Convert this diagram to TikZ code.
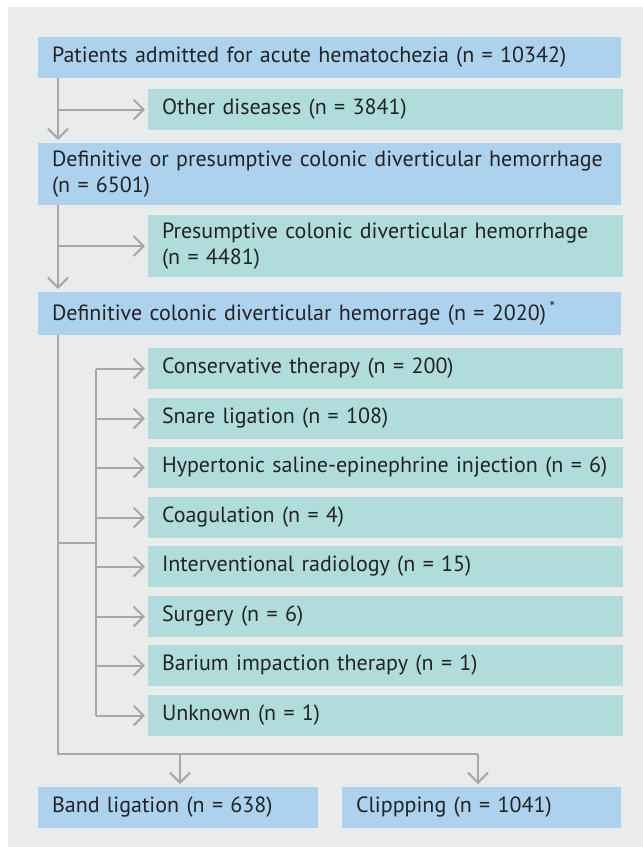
\documentclass[tikz,border=0pt]{standalone}
\usepackage{fontspec}
\setmainfont{PT Sans}
\usetikzlibrary{arrows.meta}
\definecolor{bgc}{RGB}{234,236,236}
\definecolor{bluec}{RGB}{172,210,238}
\definecolor{tealc}{RGB}{176,221,220}
\definecolor{linec}{RGB}{168,168,170}
\definecolor{txtc}{RGB}{35,35,38}
\tikzset{
  bx/.style={inner ysep=0pt, inner xsep=14pt, outer sep=0pt, text=txtc, anchor=north west,
    align=left, font=\fontsize{22}{26}\selectfont},
  bluebox/.style 2 args={bx, fill=bluec, text width=#1pt-28pt, minimum height=#2pt},
  tealbox/.style 2 args={bx, fill=tealc, text width=#1pt-28pt, minimum height=#2pt},
  conn/.style={draw=linec, line width=2pt},
  arr/.style={conn, shorten >=3pt, -{Straight Barb[length=10pt,width=20pt,line width=2pt]}},
}
\begin{document}
\begin{tikzpicture}[x=1pt,y=-1pt]
\useasboundingbox (0,0) rectangle (643,847);
\fill[bgc] (8,7) rectangle (643,847);
\node[bluebox={583}{41}] (b1) at (38,37) {Patients admitted for acute hematochezia (n = 10342)};
\node[tealbox={475}{41}] (o1) at (148,89) {Other diseases (n = 3841)};
\node[bluebox={583}{62}] (b2) at (38,143) {Definitive or presumptive colonic diverticular hemorrhage\\(n = 6501)};
\node[tealbox={475}{62}] (o2) at (148,215) {Presumptive colonic diverticular hemorrhage\\(n = 4481)};
\node[bluebox={583}{43}] (b3) at (38,292) {Definitive colonic diverticular hemorrage (n = 2020)\,\textsuperscript{*}};
\node[tealbox={475}{41}] (t1) at (148,348) {Conservative therapy (n = 200)};
\node[tealbox={475}{41}] (t2) at (148,398) {Snare ligation (n = 108)};
\node[tealbox={475}{41}] (t3) at (148,447) {Hypertonic saline-epinephrine injection (n = 6)};
\node[tealbox={475}{41}] (t4) at (148,497) {Coagulation (n = 4)};
\node[tealbox={475}{41}] (t5) at (148,546) {Interventional radiology (n = 15)};
\node[tealbox={475}{41}] (t6) at (148,596) {Surgery (n = 6)};
\node[tealbox={475}{41}] (t7) at (148,645) {Barium impaction therapy (n = 1)};
\node[tealbox={475}{41}] (t8) at (148,695) {Unknown (n = 1)};
\node[bluebox={280}{41}] (bl) at (38,787) {Band ligation (n = 638)};
\node[bluebox={279}{41}] (cl) at (342,787) {Clippping (n = 1041)};
% main spine
\coordinate (s1) at ([xshift=20pt]b1.south west);
\coordinate (s2) at ([xshift=20pt]b2.south west);
\coordinate (s3) at ([xshift=20pt]b3.south west);
\draw[arr] (s1) -- (s1 |- b2.north);
\draw[arr] (s1 |- o1.west) -- (o1.west);
\draw[arr] (s2) -- (s2 |- b3.north);
\draw[arr] (s2 |- o2.west) -- (o2.west);
% lower spine
\coordinate (ba) at ([xshift=142pt]bl.north west);
\coordinate (ca) at ([xshift=136pt]cl.north west);
\coordinate (hy) at (0,754);
\draw[conn] (s3) -- (s3 |- hy) -- (ca |- hy);
\draw[arr] (ba |- hy) -- (ba);
\draw[arr] (ca |- hy) -- (ca);
% inner branch
\coordinate (ix) at (96,543);
\draw[conn] (s3 |- ix) -- (ix);
\draw[conn] (ix |- t1.west) -- (ix |- t8.west);
\foreach \t in {t1,t2,t3,t4,t5,t6,t7,t8}{
  \draw[arr] (ix |- \t.west) -- (\t.west);
}
\end{tikzpicture}
\end{document}
